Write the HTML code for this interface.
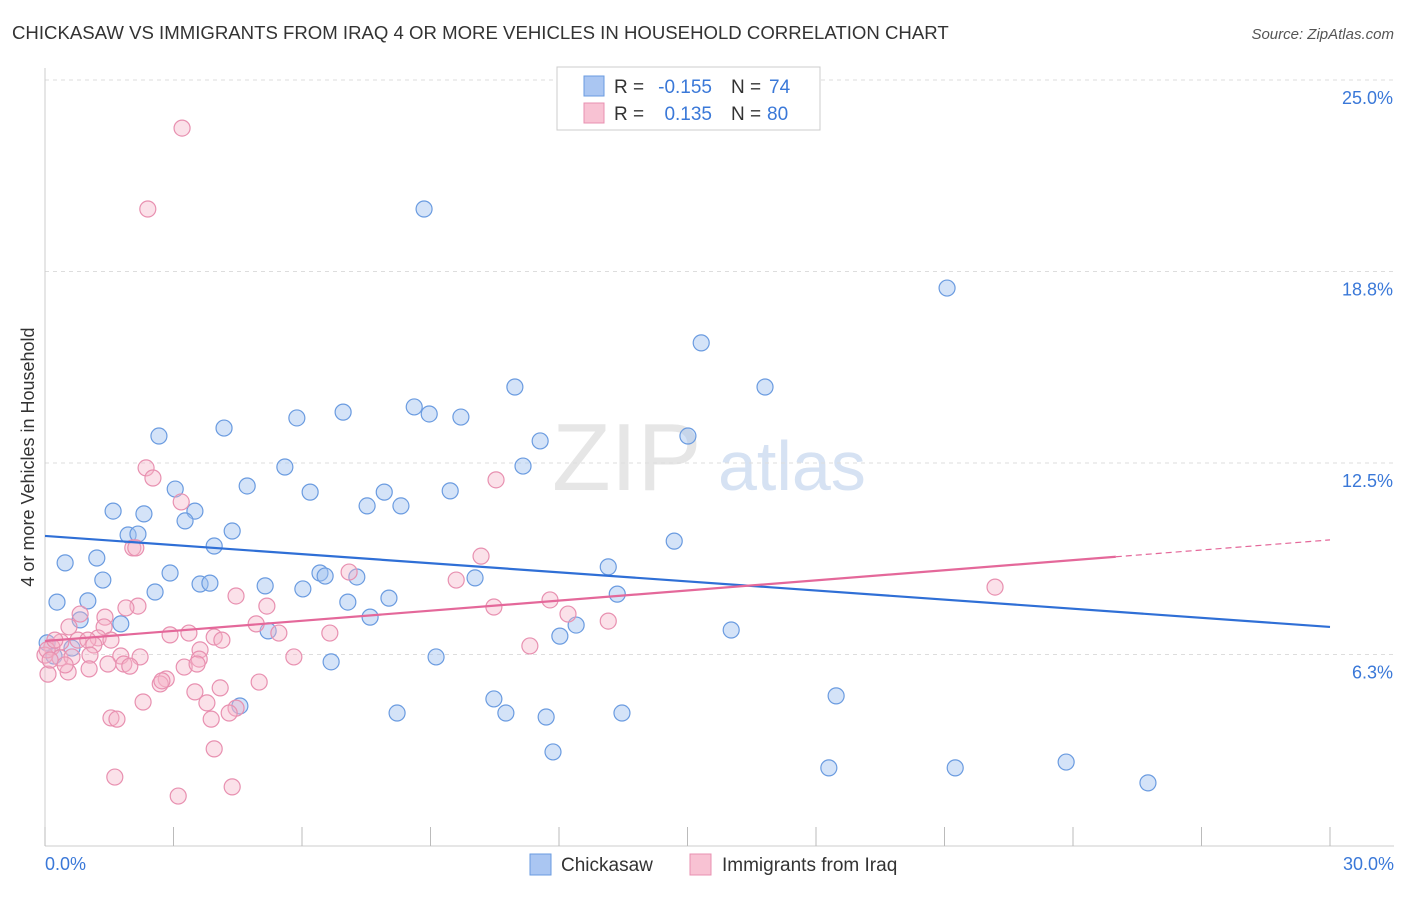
<!DOCTYPE html>
<html><head><meta charset="utf-8"><style>
body{margin:0;background:#fff;font-family:"Liberation Sans",sans-serif;}
svg text{font-family:"Liberation Sans",sans-serif;}
</style></head><body>
<svg id="chart" width="1406" height="892" xmlns="http://www.w3.org/2000/svg">
<text x="12" y="39" font-size="18.6" fill="#333">CHICKASAW VS IMMIGRANTS FROM IRAQ 4 OR MORE VEHICLES IN HOUSEHOLD CORRELATION CHART</text>
<text x="1394" y="39" font-size="15" fill="#555" font-style="italic" text-anchor="end">Source: ZipAtlas.com</text>
<text transform="translate(34,457) rotate(-90)" font-size="18" fill="#333" text-anchor="middle">4 or more Vehicles in Household</text>
<g><text x="552" y="490" font-size="96" fill="#e6e6e6" font-family="Liberation Serif">ZIP</text><text x="718" y="490" font-size="70" fill="#d6e2f3">atlas</text></g>
<g id="grid"></g><g id="axes"></g><g id="pts"></g><g id="lines"></g>
<g>
<rect x="557" y="67" width="263" height="63" fill="#fff" stroke="#ccc"/>
<rect x="584" y="76" width="20" height="20" fill="#aac6f2" stroke="#6a9be0"/>
<rect x="584" y="103" width="20" height="20" fill="#f8c2d3" stroke="#e890b0"/>
<text x="614" y="93" font-size="19" fill="#333">R =</text>
<text x="712" y="93" font-size="19" fill="#3a78d8" text-anchor="end">-0.155</text>
<text x="731" y="93" font-size="19" fill="#333">N =</text>
<text x="769" y="93" font-size="19" fill="#3a78d8">74</text>
<text x="614" y="120" font-size="19" fill="#333">R =</text>
<text x="712" y="120" font-size="19" fill="#3a78d8" text-anchor="end">0.135</text>
<text x="731" y="120" font-size="19" fill="#333">N =</text>
<text x="767" y="120" font-size="19" fill="#3a78d8">80</text>
</g>
<g>
<rect x="530" y="854" width="21" height="21" fill="#aac6f2" stroke="#6a9be0"/>
<text x="561" y="871" font-size="19" fill="#333">Chickasaw</text>
<rect x="690" y="854" width="21" height="21" fill="#f8c2d3" stroke="#e890b0"/>
<text x="722" y="871" font-size="19" fill="#333">Immigrants from Iraq</text>
</g>
</svg>
<script>
const xTicks=[0,3,6,9,12,15,18,21,24,27,30];
const yTicks=[6.25,12.5,18.75,25];
const yTickLabels=["6.3%","12.5%","18.8%","25.0%"];
const blueX=[8.85,21.06,15.32,10.97,16.81,8.62,8.97,9.71,5.88,6.96,4.18,2.66,15.01,11.56,5.60,11.16,4.72,6.19,3.04,7.92,9.46,7.52,8.31,1.59,2.31,3.50,3.27,4.37,1.94,2.17,3.95,14.69,0.47,1.21,13.15,2.92,6.42,6.54,7.28,10.04,1.35,3.62,3.85,5.14,6.02,2.57,13.36,0.28,1.00,7.07,8.03,7.59,0.82,1.77,12.40,16.02,12.02,5.21,0.05,0.63,0.21,9.13,6.68,18.47,10.48,4.55,8.22,10.76,11.70,13.47,11.86,18.30,21.25,23.84,25.75];
const blueY=[20.79,18.21,16.42,14.98,14.98,14.33,14.10,14.00,13.97,14.16,13.64,13.38,13.38,13.22,12.37,12.40,11.75,11.55,11.65,11.55,11.59,11.10,11.10,10.93,10.84,10.93,10.61,10.28,10.15,10.18,9.79,9.95,9.24,9.40,9.11,8.91,8.91,8.81,8.78,8.75,8.68,8.55,8.58,8.49,8.39,8.29,8.22,7.96,8.00,7.96,8.09,7.47,7.38,7.25,7.21,7.05,6.85,7.02,6.63,6.46,6.20,6.17,6.01,4.90,4.80,4.57,4.34,4.34,4.21,4.34,3.07,2.55,2.55,2.74,2.06];
const pinkX=[3.20,2.40,10.53,2.36,2.52,3.18,10.18,2.05,2.12,7.10,9.60,22.18,4.46,2.17,1.89,5.18,11.79,0.82,1.40,1.38,12.21,13.15,0.56,4.93,10.48,1.24,2.92,3.36,3.95,4.13,5.46,6.65,0.37,0.77,1.00,1.14,0.16,1.54,11.32,3.62,0,0.35,0.63,1.05,1.77,2.22,3.60,5.81,1.47,1.84,1.98,3.25,3.55,1.03,0.54,0.07,2.83,2.69,2.73,3.50,4.09,5.00,2.29,3.78,4.46,4.30,1.54,1.68,3.88,3.95,1.63,4.37,3.11,0.05,0.12,0.23,0.47];
const pinkY=[23.43,20.79,11.95,12.34,12.01,11.23,9.46,9.73,9.73,8.94,8.68,8.45,8.16,7.83,7.77,7.83,8.03,7.57,7.47,7.15,7.57,7.34,7.15,7.25,7.80,6.79,6.89,6.95,6.82,6.72,6.95,6.95,6.66,6.72,6.72,6.56,6.49,6.72,6.53,6.40,6.23,6.14,6.17,6.23,6.20,6.17,6.10,6.17,5.94,5.94,5.87,5.84,5.94,5.78,5.68,5.61,5.45,5.29,5.39,5.03,5.16,5.35,4.70,4.67,4.50,4.34,4.18,4.14,4.14,3.17,2.25,1.93,1.63,6.40,6.07,6.72,5.91];
const blueTrend=[10.12,7.15];
const pinkTrend=[6.69,9.99];
const pinkSolidEnd=25;
(function(){
const NS="http://www.w3.org/2000/svg";
const sx=v=>45+v*(1285/30);
const sy=v=>846-v*30.64;
function mk(tag,attrs,parent){const e=document.createElementNS(NS,tag);for(const k in attrs)e.setAttribute(k,attrs[k]);document.getElementById(parent).appendChild(e);return e;}
yTicks.forEach((t,i)=>{
 const g=mk('line',{x1:45,x2:1394,y1:sy(t),y2:sy(t),stroke:'#ddd','stroke-dasharray':'4,4'},'grid');
 
 
 const l=mk('text',{x:1393,y:sy(t)+24,'font-size':18,fill:'#3a78d8','text-anchor':'end'},'grid');
 l.textContent=yTickLabels[i];
 
 
});
const topGrid=mk('line',{x1:45,x2:1394,y1:80,y2:80,stroke:'#ddd','stroke-dasharray':'4,4'},'grid');


const ax=mk('line',{x1:45,x2:45,y1:68,y2:846,stroke:'#ccc'},'axes');


const bx=mk('line',{x1:45,x2:1394,y1:846,y2:846,stroke:'#ccc'},'axes');


xTicks.forEach(t=>{
 const tk=mk('line',{x1:sx(t),x2:sx(t),y1:827,y2:846,stroke:'#bbb'},'axes');
 
 
});
const xl0=mk('text',{x:45,y:870,'font-size':18,fill:'#3a78d8'},'axes');xl0.textContent=xTicks[0].toFixed(1)+'%';


const xl1=mk('text',{x:1394,y:870,'font-size':18,fill:'#3a78d8','text-anchor':'end'},'axes');xl1.textContent=xTicks[xTicks.length-1].toFixed(1)+'%';


blueX.forEach((v,i)=>{
 const c=mk('circle',{cx:sx(v),cy:sy(blueY[i]),r:8,fill:'rgba(160,192,240,0.45)',stroke:'#6a9be0','stroke-width':1.2},'pts');
 
 
});
pinkX.forEach((v,i)=>{
 const c=mk('circle',{cx:sx(v),cy:sy(pinkY[i]),r:8,fill:'rgba(245,180,200,0.4)',stroke:'#e890b0','stroke-width':1.2},'pts');
 
 
});
const bl=mk('line',{x1:sx(0),y1:sy(blueTrend[0]),x2:sx(30),y2:sy(blueTrend[1]),stroke:'#2f6fd6','stroke-width':2.2},'lines');


const pAt=x=>pinkTrend[0]+(pinkTrend[1]-pinkTrend[0])*x/30;
const pl=mk('line',{x1:sx(0),y1:sy(pAt(0)),x2:sx(pinkSolidEnd),y2:sy(pAt(pinkSolidEnd)),stroke:'#e4689a','stroke-width':2.2},'lines');


const pd=mk('line',{x1:sx(pinkSolidEnd),y1:sy(pAt(pinkSolidEnd)),x2:sx(30),y2:sy(pAt(30)),stroke:'#e4689a','stroke-width':1.2,'stroke-dasharray':'6,4'},'lines');


})();
</script>
</body></html>
